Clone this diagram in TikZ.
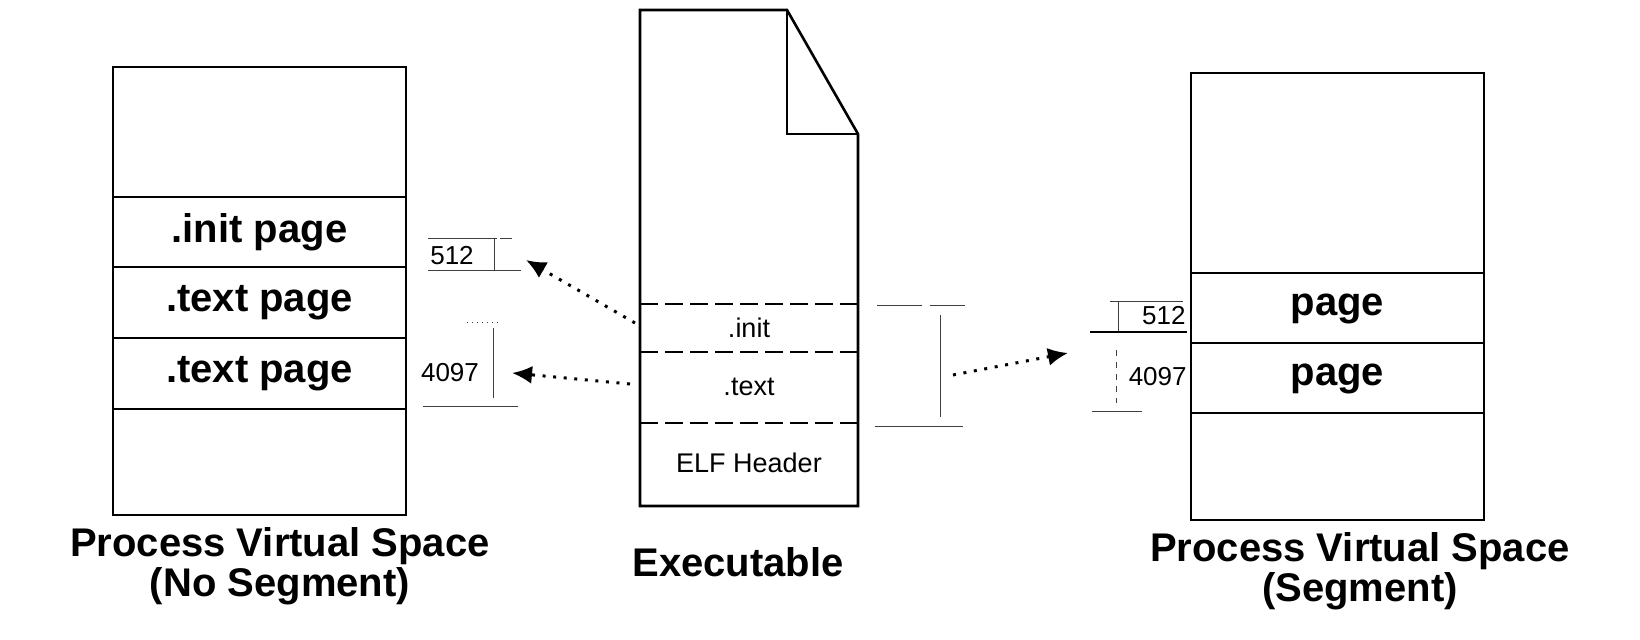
\documentclass[tikz,border=0pt]{standalone}
\usepackage{fontspec}
\setmainfont{Liberation Sans}
\usetikzlibrary{arrows.meta}
\begin{document}
\begin{tikzpicture}[x=0.5pt,y=-0.5pt,
  boxline/.style={line width=1.3pt},
  divline/.style={line width=1pt},
  dashline/.style={line width=1.4pt,dash pattern=on 9pt off 3.5pt},
  dimline/.style={line width=0.5pt,black!75},
  bigtxt/.style={font=\fontsize{20}{20}\selectfont\bfseries,inner sep=0pt},
  smalltxt/.style={font=\fontsize{13.5}{16}\selectfont,inner sep=0pt},
  dimtxt/.style={font=\fontsize{13}{15}\selectfont,inner sep=0pt},
  dotarrow/.style={line width=1.5pt,dash pattern=on 1.5pt off 3.8pt,
    -{Latex[length=10pt,width=9pt]}}
]
\useasboundingbox (0,0) rectangle (1640,640);

% ---------- left box ----------
\draw[boxline] (113,67) rectangle (406,515);
\foreach \yy in {197,267,338,409}{\draw[divline] (113,\yy) -- (406,\yy);}
\node[bigtxt] (linit) at (259.5,232) {.init page};
\node[bigtxt] (ltext1) at (259.5,302.5) {.text page};
\node[bigtxt] (ltext2) at (259.5,373.5) {.text page};
\node[bigtxt,align=center] (lcap) at (280,566) {Process Virtual Space\\(No Segment)};

% ---------- executable ----------
\draw[boxline,line join=miter] (640,10) -- (787,10) -- (858,134) -- (858,506) -- (640,506) -- cycle;
\draw[boxline] (787,10) -- (787,134) -- (858,134);
\draw[dashline] (640,304) -- (858,304);
\draw[dashline] (640,352) -- (858,352);
\draw[dashline] (640,423) -- (858,423);
\node[smalltxt] (einit) at (749,328) {.init};
\node[smalltxt] (etext) at (749,387) {.text};
\node[smalltxt] (elf) at (749,463) {ELF Header};
\node[bigtxt] (ecap) at (738,562) {Executable};

% ---------- right box ----------
\draw[boxline] (1191,73) rectangle (1484,520);
\foreach \yy in {273,343,413}{\draw[divline] (1191,\yy) -- (1484,\yy);}
\node[bigtxt] (rp1) at (1337.5,309) {page};
\node[bigtxt] (rp2) at (1337.5,379) {page};
\node[bigtxt,align=center] (rcap) at (1360,571) {Process Virtual Space\\(Segment)};

% ---------- dimension marks, left ----------
\draw[dimline] (428,239) -- (497,239);
\draw[dimline] (500,239) -- (512,239);
\draw[dimline] (428,271) -- (521,271);
\draw[dimline] (494,239) -- (494,271);
\node[dimtxt] (l512) at (452,256) {512};
\draw[dimline,dotted] (467,323) -- (498,323);
\draw[dimline] (493,328) -- (493,398);
\draw[dimline] (423,407) -- (518,407);
\node[dimtxt] (l4097) at (450,373) {4097};

% ---------- dimension marks, middle ----------
\draw[dimline] (877,306) -- (922,306);
\draw[dimline] (930,306) -- (965,306);
\draw[dimline] (940,315) -- (940,417);
\draw[dimline] (875,427) -- (963,427);

% ---------- dimension marks, right ----------
\draw[dimline] (1110,302) -- (1183,302);
\draw[dimline] (1118,302) -- (1118,332);
\draw[line width=1.2pt] (1090,332) -- (1187,332);
\node[dimtxt,anchor=east] (r512) at (1186,316) {512};
\draw[dimline,dashed] (1116,350) -- (1116,403);
\draw[dimline] (1092,412) -- (1142,412);
\node[dimtxt,anchor=east] (r4097) at (1187,377) {4097};

% ---------- arrows ----------
\coordinate (a1s) at (635,323);
\coordinate (a1e) at (526,260);
\coordinate (a2s) at (630,384);
\coordinate (a2e) at (512,373);
\coordinate (a3s) at (953,375);
\coordinate (a3e) at (1068,353);
\draw[dotarrow] (a1s) -- (a1e);
\draw[dotarrow] (a2s) -- (a2e);
\draw[dotarrow] (a3s) -- (a3e);
\end{tikzpicture}
\end{document}
